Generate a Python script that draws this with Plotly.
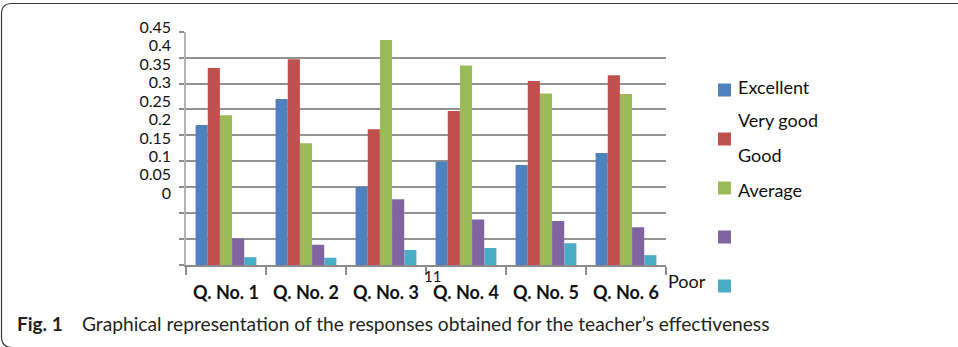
import plotly.graph_objects as go

# Share of responses per question (fractions of respondents)
questions = ["Q. No. 1", "Q. No. 2", "Q. No. 3", "Q. No. 4", "Q. No. 5", "Q. No. 6"]
excellent = [0.27, 0.32, 0.151, 0.199, 0.193, 0.216]
very_good = [0.38, 0.397, 0.262, 0.297, 0.355, 0.366]
good = [0.289, 0.235, 0.434, 0.385, 0.331, 0.33]
average = [0.051, 0.039, 0.127, 0.088, 0.085, 0.073]
poor = [0.015, 0.014, 0.029, 0.033, 0.042, 0.019]

y_ticks = [0, 0.05, 0.1, 0.15, 0.2, 0.25, 0.3, 0.35, 0.4, 0.45]

series = [
    ("Excellent", excellent, "#4F81BD"),
    ("Very good", very_good, "#C0504D"),
    ("Good", good, "#9BBB59"),
    ("Average", average, "#8064A2"),
    ("Poor", poor, "#4BACC6"),
]

W, H = 958, 347
L, R, T, B = 186, 292, 27, 82
PW, PH = W - L - R, H - T - B


def px(x):
    return (x - L) / PW


def py(y):
    return (H - B - y) / PH


FONT = "Lato"
TXT = "#111111"
fig = go.Figure()
for name, vals, col in series:
    fig.add_trace(go.Bar(name=name, x=questions, y=vals,
                         marker=dict(color=col, line=dict(width=0)),
                         showlegend=False))

# carrier for the left-hand value scale
fig.add_trace(go.Scatter(x=[], y=[], xaxis="x", yaxis="y2", showlegend=False))

fig.update_layout(
    width=W, height=H,
    margin=dict(l=L, r=R, t=T, b=B),
    paper_bgcolor="white", plot_bgcolor="rgba(0,0,0,0)",
    barmode="group", bargap=0.24, bargroupgap=0,
    font=dict(family=FONT, color=TXT),
    xaxis=dict(
        type="category", tickson="boundaries", ticks="outside", ticklen=8,
        tickcolor="#8c8c8c", tickwidth=1.5,
        showline=True, linecolor="#8c8c8c", linewidth=2,
        showgrid=False,
        tickfont=dict(family=FONT, size=18, weight="bold", color=TXT),
        ticklabelstandoff=10,
    ),
    yaxis=dict(
        range=[0, 0.45], domain=[0, (H - B - 31.7) / PH],
        tickvals=y_ticks, showticklabels=False,
        ticks="outside", ticklen=5, tickcolor="#8c8c8c", tickwidth=2,
        showgrid=True, gridcolor="#929292", gridwidth=2,
        showline=True, linecolor="#b4b4b4", linewidth=2,
        zeroline=False,
    ),
    yaxis2=dict(
        range=[0, 0.45], domain=[py(193.3), py(27.3)],
        anchor="free", position=0, side="left",
        tickvals=y_ticks, ticktext=[f"{v:g}" for v in y_ticks],
        ticks="", showgrid=False, showline=False, zeroline=False,
        tickfont=dict(family=FONT, size=16, color=TXT),
        ticklabelstandoff=15,
    ),
)

shapes = []
annotations = []

# legend keys
legend_keys = [(90, "#4F81BD"), (139, "#C0504D"), (188, "#9BBB59"),
               (237, "#8064A2"), (286, "#4BACC6")]
for yc, col in legend_keys:
    shapes.append(dict(type="rect", xref="paper", yref="paper",
                       x0=px(718), x1=px(731), y0=py(yc + 6.5), y1=py(yc - 6.5),
                       fillcolor=col, line=dict(width=0)))

legend_texts = [("Excellent", 736, 87), ("Very good", 736, 120),
                ("Good", 736, 155), ("Average", 736, 190)]
for txt, x, y in legend_texts:
    annotations.append(dict(text=txt, xref="paper", yref="paper", x=px(x), y=py(y),
                            xanchor="left", yanchor="middle", showarrow=False,
                            font=dict(family=FONT, size=18, color=TXT)))

annotations.append(dict(text="Poor", xref="paper", yref="paper", x=px(666), y=py(281),
                        xanchor="left", yanchor="middle", showarrow=False,
                        font=dict(family=FONT, size=18, color=TXT)))
annotations.append(dict(text="11", xref="paper", yref="paper", x=px(432), y=py(276),
                        xanchor="center", yanchor="middle", showarrow=False,
                        font=dict(family=FONT, size=15, color=TXT)))

# caption
annotations.append(dict(text="<b>Fig. 1</b>", xref="paper", yref="paper", x=px(15), y=py(323),
                        xanchor="left", yanchor="middle", showarrow=False,
                        font=dict(family=FONT, size=19, color="#231f20")))
annotations.append(dict(text="Graphical representation of the responses obtained for the teacher\u2019s effectiveness",
                        xref="paper", yref="paper", x=px(80), y=py(323),
                        xanchor="left", yanchor="middle", showarrow=False,
                        font=dict(family=FONT, size=19.2, color="#231f20")))


# rounded frame around the figure
def pt(x, y):
    return f"{px(x)},{py(y)}"


frame = (f"M {pt(970, 3.5)} L {pt(12, 3.5)} Q {pt(1.5, 3.5)} {pt(1.5, 14)} "
         f"L {pt(1.5, 337)} Q {pt(1.5, 347.5)} {pt(12, 347.5)} L {pt(970, 347.5)}")
shapes.append(dict(type="path", xref="paper", yref="paper", path=frame,
                   line=dict(color="#3a3a3a", width=1.2)))

fig.update_layout(shapes=shapes, annotations=annotations)
fig.write_html("out.html")
